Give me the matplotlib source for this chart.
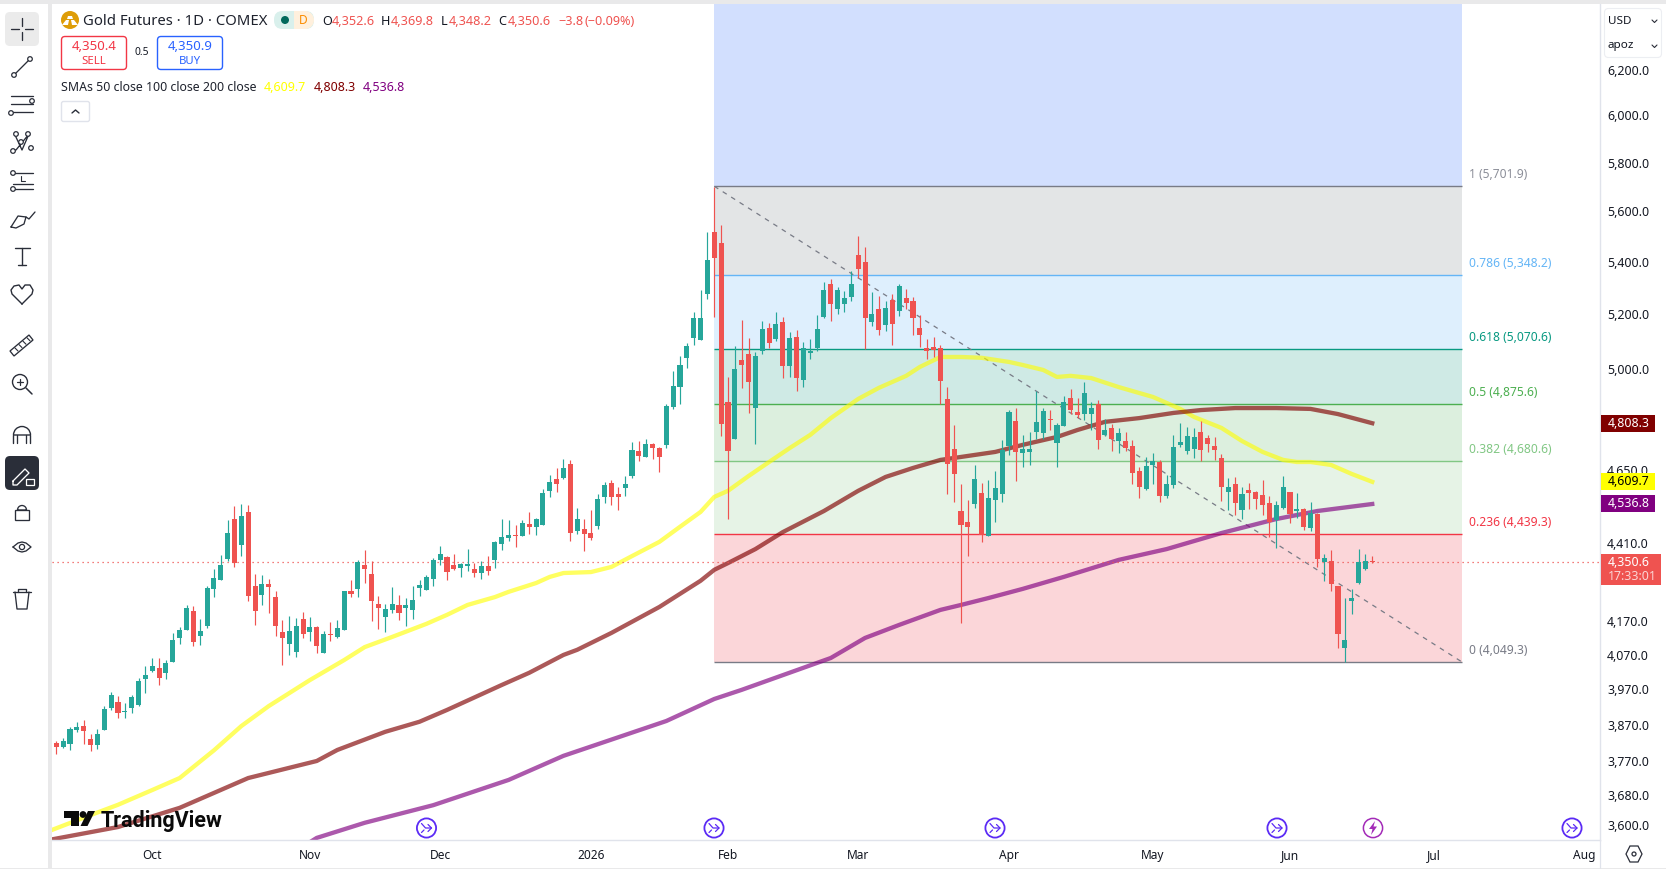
"""Gold futures daily candles with SMAs and a Fibonacci retracement, terminal layout."""

import matplotlib

matplotlib.use("Agg")

import matplotlib.pyplot as plt
from matplotlib.patches import Circle, FancyBboxPatch, Polygon, Rectangle, Wedge
from matplotlib.ticker import FixedFormatter, FixedLocator, NullLocator

plt.rcParams["font.family"] = ["Noto Sans", "DejaVu Sans"]

UP = "#26A69A"
DOWN = "#EF5350"
TEXT = "#131722"
ICON = "#2A2E39"
EVENT = "#5B2BF5"

opens = [
    3820, 3809, 3818, 3856, 3867, 3831, 3815, 3856, 3918, 3935, 3907, 3918, 3926, 4000, 4023, 4032,
    4018, 4050, 4120, 4144, 4201, 4126, 4156, 4268, 4296, 4361, 4488, 4405, 4511, 4277, 4249, 4283,
    4243, 4138, 4102, 4079, 4177, 4138, 4153, 4076, 4132, 4123, 4144, 4262, 4268, 4342, 4314, 4222,
    4183, 4204, 4219, 4210, 4204, 4271, 4265, 4299, 4358, 4367, 4342, 4333, 4339, 4330, 4317, 4339,
    4358, 4408, 4427, 4437, 4434, 4472, 4463, 4469, 4580, 4619, 4623, 4669, 4450, 4456, 4443, 4466,
    4560, 4606, 4570, 4590, 4629, 4713, 4693, 4737, 4723, 4734, 4865, 4935, 5040, 5112, 5105, 5277,
    5518, 5474, 4882, 4754, 5032, 5054, 4861, 5065, 5149, 5109, 5172, 5010, 5116, 4960, 5058, 5076,
    5190, 5315, 5220, 5239, 5265, 5427, 5400, 5172, 5220, 5161, 5254, 5213, 5262, 5250, 5149, 5076,
    5080, 5076, 4893, 4720, 4514, 4479, 4537, 4573, 4434, 4550, 4570, 4730, 4816, 4707, 4710, 4778,
    4775, 4823, 4741, 4799, 4896, 4847, 4840, 4840, 4875, 4768, 4792, 4747, 4747, 4730, 4646, 4586,
    4666, 4676, 4563, 4599, 4734, 4713, 4720, 4778, 4758, 4730, 4690, 4576, 4603, 4517, 4583, 4576,
    4566, 4540, 4485, 4524, 4576, 4514, 4521, 4459, 4505, 4352, 4355, 4277, 4090, 4231, 4287, 4330,
    4352.6,
]
highs = [
    3826, 3834, 3865, 3879, 3884, 3845, 3859, 3923, 3963, 3951, 3932, 3954, 4003, 4038, 4061, 4061,
    4055, 4135, 4153, 4219, 4216, 4177, 4277, 4330, 4374, 4485, 4530, 4537, 4534, 4314, 4311, 4299,
    4262, 4174, 4186, 4180, 4198, 4183, 4156, 4141, 4168, 4174, 4262, 4296, 4358, 4389, 4355, 4246,
    4222, 4274, 4249, 4240, 4277, 4296, 4311, 4364, 4402, 4370, 4377, 4348, 4392, 4348, 4355, 4370,
    4418, 4488, 4485, 4469, 4485, 4511, 4491, 4586, 4633, 4656, 4686, 4683, 4524, 4488, 4517, 4570,
    4609, 4616, 4593, 4629, 4744, 4747, 4754, 4741, 4727, 4875, 4993, 5047, 5094, 5209, 5292, 5518,
    5700, 5545, 4971, 5083, 5179, 5112, 5061, 5175, 5168, 5209, 5190, 5135, 5142, 5098, 5109, 5198,
    5323, 5334, 5304, 5288, 5365, 5502, 5458, 5285, 5269, 5250, 5277, 5315, 5296, 5265, 5198, 5109,
    5116, 5087, 4935, 4802, 4603, 4550, 4666, 4606, 4616, 4646, 4751, 4854, 4861, 4768, 4778, 4921,
    4861, 4854, 4809, 4904, 4928, 4896, 4953, 4882, 4889, 4823, 4806, 4792, 4778, 4751, 4659, 4693,
    4707, 4683, 4633, 4768, 4809, 4795, 4792, 4816, 4768, 4761, 4703, 4623, 4626, 4593, 4606, 4580,
    4616, 4563, 4547, 4629, 4576, 4573, 4524, 4544, 4508, 4377, 4389, 4277, 4240, 4268, 4392, 4377,
    4369.8,
]
lows = [
    3790, 3806, 3801, 3851, 3818, 3798, 3804, 3856, 3912, 3890, 3890, 3904, 3923, 3960, 4020, 3983,
    4000, 4050, 4102, 4144, 4096, 4099, 4150, 4243, 4296, 4355, 4336, 4370, 4231, 4159, 4219, 4195,
    4126, 4041, 4070, 4064, 4120, 4111, 4076, 4076, 4111, 4120, 4144, 4243, 4243, 4286, 4171, 4147,
    4138, 4195, 4174, 4156, 4177, 4246, 4265, 4277, 4342, 4296, 4327, 4305, 4323, 4305, 4299, 4311,
    4333, 4389, 4418, 4399, 4434, 4440, 4437, 4469, 4560, 4576, 4619, 4418, 4440, 4386, 4421, 4456,
    4540, 4534, 4517, 4563, 4623, 4680, 4693, 4686, 4643, 4723, 4858, 4875, 5003, 5087, 5105, 5258,
    5190, 4765, 4488, 4754, 4932, 4844, 4737, 5054, 5076, 5101, 4967, 4971, 4921, 4935, 5036, 5065,
    5187, 5175, 5202, 5209, 5250, 5338, 5072, 5157, 5124, 5138, 5087, 5194, 5220, 5124, 5080, 5036,
    5043, 4875, 4570, 4544, 4165, 4370, 4524, 4415, 4434, 4479, 4544, 4700, 4613, 4659, 4666, 4754,
    4754, 4785, 4659, 4799, 4840, 4826, 4820, 4785, 4720, 4765, 4713, 4707, 4713, 4603, 4557, 4583,
    4603, 4544, 4557, 4590, 4727, 4703, 4690, 4680, 4710, 4683, 4547, 4517, 4501, 4488, 4521, 4521,
    4501, 4431, 4396, 4521, 4475, 4491, 4453, 4450, 4336, 4293, 4262, 4090, 4049.3, 4192, 4283, 4327,
    4348.2,
]
closes = [
    3809, 3826, 3859, 3865, 3853, 3815, 3845, 3915, 3954, 3904, 3909, 3949, 3995, 4012, 4038, 4003,
    4047, 4114, 4144, 4210, 4108, 4141, 4271, 4302, 4342, 4443, 4348, 4498, 4246, 4201, 4283, 4274,
    4156, 4120, 4141, 4156, 4132, 4153, 4096, 4132, 4129, 4150, 4262, 4252, 4352, 4330, 4231, 4210,
    4207, 4222, 4195, 4219, 4234, 4280, 4305, 4358, 4377, 4320, 4330, 4345, 4345, 4317, 4339, 4323,
    4415, 4431, 4437, 4434, 4475, 4463, 4488, 4573, 4609, 4603, 4656, 4443, 4488, 4440, 4427, 4553,
    4599, 4560, 4560, 4603, 4717, 4696, 4737, 4723, 4693, 4868, 4939, 5014, 5083, 5187, 5187, 5408,
    5415, 4806, 4713, 5000, 5014, 4953, 5047, 5146, 5094, 5164, 5010, 5112, 4967, 5076, 5065, 5146,
    5292, 5239, 5292, 5262, 5315, 5372, 5187, 5202, 5142, 5224, 5164, 5307, 5243, 5187, 5124, 5065,
    5068, 4957, 4669, 4636, 4469, 4463, 4619, 4437, 4557, 4590, 4717, 4847, 4710, 4720, 4720, 4813,
    4851, 4820, 4802, 4882, 4854, 4837, 4914, 4861, 4751, 4785, 4754, 4775, 4723, 4639, 4593, 4663,
    4680, 4563, 4603, 4727, 4744, 4765, 4761, 4717, 4737, 4717, 4593, 4593, 4540, 4570, 4573, 4553,
    4534, 4479, 4534, 4593, 4505, 4521, 4463, 4508, 4361, 4364, 4283, 4132, 4114, 4240, 4352, 4355,
    4350.6,
]

sma50_idx = [
    -1, 5, 9, 14, 18, 23, 27, 31, 37, 42, 45, 49, 54, 57, 60, 64, 66, 70, 72, 74, 78, 81, 84, 88, 91, 94,
    96, 98, 101, 104, 107, 110, 113, 117, 120, 124, 126, 129, 132, 135, 139, 141, 144, 146, 148, 151,
    155, 160, 164, 166, 170, 173, 176, 179, 181, 183, 186, 189, 192,
]
sma50 = [
    3586, 3627, 3654, 3693, 3725, 3800, 3867, 3923, 3997, 4055, 4093, 4123, 4162, 4189, 4219, 4243, 4259,
    4286, 4305, 4317, 4320, 4336, 4370, 4415, 4463, 4511, 4560, 4580, 4629, 4676, 4723, 4768, 4826, 4893,
    4932, 4975, 5007, 5043, 5043, 5040, 5025, 5014, 4996, 4971, 4975, 4967, 4935, 4900, 4858, 4830, 4792,
    4747, 4710, 4683, 4676, 4676, 4666, 4636, 4609.7,
]
sma100_idx = [
    -1, 9, 18, 28, 38, 41, 48, 53, 57, 65, 69, 74, 76, 81, 88, 94, 96, 98, 102, 106, 112, 117, 121, 125,
    129, 132, 137, 141, 146, 149, 153, 158, 163, 167, 172, 178, 183, 187, 192,
]
sma100 = [
    3563, 3596, 3646, 3725, 3771, 3801, 3851, 3879, 3912, 3983, 4018, 4070, 4085, 4135, 4213, 4293, 4327,
    4348, 4392, 4446, 4514, 4580, 4626, 4656, 4683, 4693, 4710, 4734, 4761, 4785, 4813, 4826, 4844, 4854,
    4861, 4861, 4858, 4840, 4808.3,
]
sma200_idx = [
    37, 38, 45, 55, 66, 74, 89, 96, 100, 113, 118, 123, 129, 132, 136, 141, 147, 155, 162, 170, 178, 184, 192,
]
sma200 = [
    3557, 3568, 3607, 3653, 3720, 3785, 3881, 3943, 3969, 4061, 4120, 4159, 4204, 4219, 4240, 4268, 4305,
    4358, 4392, 4443, 4488, 4514, 4536.8,
]

fib_ratios = ["1", "0.786", "0.618", "0.5", "0.382", "0.236", "0"]
fib_levels = [5701.9, 5348.2, 5070.6, 4875.6, 4680.6, 4439.3, 4049.3]
fib_lines = ["#787B86", "#64B5F6", "#089981", "#4CAF50", "#81C784", "#F23645", "#787B86"]
fib_labels = ["#8C8F99", "#64B5F6", "#089981", "#4CAF50", "#81C784", "#F23645", "#787B86"]
fib_fills = ["#E3E5E6", "#DEEFFD", "#CFEAE5", "#DCEFDE", "#E6F3E6", "#FBD6D9"]
fib_top_fill = "#D2DFFE"

price_ticks = [6200, 6000, 5800, 5600, 5400, 5200, 5000, 4650, 4410, 4170, 4070, 3970, 3870, 3770, 3680, 3600]
month_labels = ["Oct", "Nov", "Dec", "2026", "Feb", "Mar", "Apr", "May", "Jun", "Jul", "Aug"]
month_idx = [14, 37, 56, 78, 98, 117, 139, 160, 180, 201, 223]

fib_start, fib_end = 96, 205.1
last_price = closes[-1]

fig = plt.figure(figsize=(16.66, 8.69), dpi=100, facecolor="white")
ax = fig.add_axes([52 / 1666, 29 / 869, 1548 / 1666, 836 / 869])
ax.set_yscale("log")
ax.set_xlim(-0.627, 225.23)
ax.set_ylim(3562.6, 6500.9)

# Fibonacci bands and levels
ax.fill_between([fib_start, fib_end], fib_levels[0], 6500.9, color=fib_top_fill, lw=0, zorder=1)
for upper, lower, fill in zip(fib_levels[:-1], fib_levels[1:], fib_fills):
    ax.fill_between([fib_start, fib_end], lower, upper, color=fill, lw=0, zorder=1)
for level, color in zip(fib_levels, fib_lines):
    ax.plot([fib_start, fib_end], [level, level], color=color, lw=1.0, zorder=1.5, solid_capstyle="butt")
for ratio, level, color in zip(fib_ratios, fib_levels, fib_labels):
    ax.annotate(
        f"{ratio} ({level:,.1f})",
        xy=(fib_end, level),
        xytext=(5, 8.2),
        textcoords="offset points",
        color=color,
        fontsize=8.7,
        va="center",
        ha="left",
    )
ax.plot(
    [fib_start, fib_end],
    [fib_levels[0], fib_levels[-1]],
    color="#787B86",
    lw=0.9,
    dashes=(3.8, 4.2),
    zorder=2,
)

# Moving averages sit under the candles
ax.plot(sma50_idx, sma50, color="#FFFF00", alpha=0.62, lw=3.1, zorder=2.5, solid_joinstyle="round")
ax.plot(sma100_idx, sma100, color="#800000", alpha=0.65, lw=3.1, zorder=2.5, solid_joinstyle="round")
ax.plot(sma200_idx, sma200, color="#800080", alpha=0.65, lw=3.1, zorder=2.5, solid_joinstyle="round")

ax.axhline(last_price, color=DOWN, lw=0.9, dashes=(1, 3), zorder=2.6)

# Candles
for i, (o, h, l, c) in enumerate(zip(opens, highs, lows, closes)):
    color = UP if c >= o else DOWN
    ax.vlines(i, l, h, color=color, lw=0.85, zorder=3)
    ax.bar(i, max(abs(c - o), 2.5), bottom=min(o, c), width=0.74, color=color, lw=0, zorder=3.1)

# Axes
ax.yaxis.tick_right()
ax.yaxis.set_major_locator(FixedLocator(price_ticks))
ax.yaxis.set_major_formatter(FixedFormatter([f"{p:,.1f}" for p in price_ticks]))
ax.yaxis.set_minor_locator(NullLocator())
ax.set_xticks(month_idx)
ax.set_xticklabels(month_labels)
ax.tick_params(axis="y", length=0, pad=5.2, labelsize=8.9, labelcolor=TEXT)
ax.tick_params(axis="x", length=0, pad=6.8, labelsize=8.6, labelcolor=TEXT)
for tick_label in ax.get_yticklabels():
    tick_label.set_verticalalignment("center_baseline")
for tick_label in ax.get_xticklabels():
    if tick_label.get_text() == "2026":
        tick_label.set_fontweight("bold")
for side in ["top", "left"]:
    ax.spines[side].set_visible(False)
for side in ["right", "bottom"]:
    ax.spines[side].set_color("#E0E3EB")
    ax.spines[side].set_linewidth(1.0)

# Everything around the plot is placed in a full-figure pixel overlay
ui = fig.add_axes([0, 0, 1, 1], facecolor="none")
ui.set_xlim(0, 1666)
ui.set_ylim(869, 0)
ui.axis("off")


def rounded(x, y, w, h, radius=3, **kwargs):
    ui.add_patch(
        FancyBboxPatch((x + radius, y + radius), w - 2 * radius, h - 2 * radius,
                       boxstyle=f"round,pad={radius},rounding_size={radius}", **kwargs)
    )


def stroke(xs, ys, color=ICON, lw=0.95):
    ui.plot(xs, ys, color=color, lw=lw, solid_capstyle="round", solid_joinstyle="round")


def ring(x, y, r=2.3, color=ICON, fill="white"):
    ui.add_patch(Circle((x, y), r, fc=fill, ec=color, lw=0.9, zorder=5))


def label(x, y, text, color=TEXT, size=8.6, ha="left", **kwargs):
    ui.text(x, y + 1.2, text, color=color, fontsize=size, ha=ha, va="center", **kwargs)


# Window frame
ui.add_patch(Rectangle((0, 0), 1666, 4, fc="#E9E9EA", lw=0))
ui.add_patch(Rectangle((48, 0), 4, 869, fc="#E9E9EA", lw=0))
ui.add_patch(Rectangle((0, 867.5), 1666, 1.5, fc="#E9E9EA", lw=0))
stroke([1600, 1600], [840, 868], color="#E0E3EB", lw=0.9)

# Drawing toolbar
rounded(5, 12, 34, 34, radius=5, fc="#EBEBEB", ec="none")
stroke([11, 19], [29, 29]); stroke([25, 33], [29, 29]); stroke([22, 22], [18, 26]); stroke([22, 22], [32, 40])
stroke([14, 30], [75, 59]); ring(14, 75); ring(30, 59)
for y, x0 in [(96, 11), (104, 11), (112, 11)]:
    stroke([x0, 33], [y, y])
ring(32, 101); ring(11, 113)
stroke([15, 22, 29, 16, 12], [135, 150, 134, 150, 150]); ring(16, 134); ring(28, 134); ring(21, 142); ring(13, 151); ring(31, 148)
stroke([13, 33], [173, 173]); stroke([13, 33], [184, 184]); stroke([13, 33], [189, 189]); ring(13, 173); ring(13, 189)
stroke([21, 21, 25], [176, 181, 181], lw=0.8)
stroke([11, 18, 26, 24, 16, 11], [227, 216, 217, 224, 228, 227]); stroke([26, 29, 35], [217, 219, 212])
stroke([15, 30], [248, 248], lw=1.0); stroke([22, 22], [248, 265], lw=1.0); stroke([18, 26], [265, 265], lw=1.0)
stroke([22, 12, 11, 14, 19, 22, 25, 30, 33, 32, 22], [304, 294, 290, 286, 285, 289, 285, 285, 290, 294, 304], lw=1.0)
ui.add_patch(Polygon([(10, 351), (29, 335), (33, 340), (14, 356)], closed=True, fc="none", ec=ICON, lw=0.95))
for t in range(4):
    stroke([15 + 4 * t, 18 + 4 * t], [348 - 3.4 * t, 351 - 3.4 * t], lw=0.8)
ui.add_patch(Circle((20, 382), 7.5, fc="none", ec=ICON, lw=1.0))
stroke([26, 32], [388, 394], lw=1.1); stroke([17, 23], [382, 382], lw=0.9); stroke([20, 20], [379, 385], lw=0.9)
ui.add_patch(Wedge((22, 435), 8.5, 180, 360, fc="none", ec=ICON, lw=1.0))
stroke([13.5, 13.5], [435, 443], lw=1.0); stroke([30.5, 30.5], [435, 443], lw=1.0)
stroke([17.5, 17.5], [435, 443]); stroke([26.5, 26.5], [435, 443])
rounded(5, 456, 34, 34, radius=5, fc="#2A2E39", ec="none")
stroke([13, 25, 29, 17, 13, 13], [481, 469, 473, 485, 485, 481], color="white")
ui.add_patch(Rectangle((26, 479), 8, 6, fc="none", ec="white", lw=0.9))
ui.add_patch(Rectangle((15, 510), 14, 10, fc="none", ec=ICON, lw=0.95))
ui.add_patch(Wedge((22, 510), 4.5, 180, 360, fc="none", ec=ICON, lw=0.95))
stroke([13, 18, 22, 26, 31, 26, 22, 18, 13], [547, 543, 542, 543, 547, 551, 552, 551, 547])
ui.add_patch(Circle((22, 547), 2.6, fc="none", ec=ICON, lw=0.9))
stroke([13, 31], [592, 592]); stroke([18, 18, 26, 26], [592, 589, 589, 592])
stroke([15, 17, 27, 29], [592, 609, 609, 592])

# Symbol header
ui.add_patch(Circle((70, 20), 9, fc="#DE9D08", lw=0))
ui.add_patch(Polygon([(68, 16), (72, 16), (73, 19), (67, 19)], fc="white", lw=0))
ui.add_patch(Polygon([(62, 25), (66, 20), (69, 20), (68, 25)], fc="white", lw=0))
ui.add_patch(Polygon([(72, 25), (71, 20), (74, 20), (78, 25)], fc="white", lw=0))
label(83, 20, "Gold Futures · 1D · COMEX", size=10.7, color="#1E222D")
rounded(274, 11, 40, 18, radius=8.5, fc="#D9F0EC", ec="none")
ui.add_patch(Rectangle((294, 11), 11, 18, fc="#FFF0DD", lw=0))
ui.add_patch(Wedge((305, 20), 9, -90, 90, fc="#FFF0DD", lw=0))
ui.add_patch(Circle((285, 20), 4, fc="#00695C", lw=0))
label(303, 19, "D", color="#FB8C00", size=8.6, ha="center", fontweight="bold")
ohlc_parts = [
    (322, "O", TEXT), (332, "4,352.6", DOWN), (381, "H", TEXT), (391, "4,369.8", DOWN),
    (441, "L", TEXT), (449, "4,348.2", DOWN), (498, "C", TEXT), (508, "4,350.6", DOWN),
    (558, "−3.8", DOWN), (585, "(−0.09%)", DOWN),
]
for x, text, color in ohlc_parts:
    label(x, 20, text, color=color, size=9.1)

rounded(61.5, 36.5, 65, 33, radius=3.5, fc="white", ec="#F23645", lw=1.0)
label(94, 45, "4,350.4", color="#F23645", size=9.5, ha="center")
label(94, 60, "SELL", color="#F23645", size=8.2, ha="center")
label(142, 51.5, "0.5", size=7.4, ha="center")
rounded(157.5, 36.5, 65, 33, radius=3.5, fc="white", ec="#2962FF", lw=1.0)
label(190, 45, "4,350.9", color="#2962FF", size=9.5, ha="center")
label(190, 60, "BUY", color="#2962FF", size=8.2, ha="center")

label(61, 86, "SMAs 50 close 100 close 200 close", size=8.85, color="#1E222D")
label(264, 86, "4,609.7", color="#FFFF00", size=9.0)
label(314, 86, "4,808.3", color="#800000", size=9.0)
label(363, 86, "4,536.8", color="#800080", size=9.0)
rounded(61.5, 101.5, 28, 20, radius=2, fc="white", ec="#E0E3EB", lw=1.0)
stroke([72, 75.5, 79], [113, 110, 113], lw=1.0)

# Currency and unit selector
rounded(1604.5, 8.5, 57, 49, radius=4, fc="white", ec="#ECEEF2", lw=0.8)
label(1608, 20, "USD", size=8.4)
label(1608, 44.5, "apoz", size=8.4)
stroke([1652, 1654.5, 1657], [20, 22.5, 20], lw=0.8)
stroke([1652, 1654.5, 1657], [45, 47.5, 45], lw=0.8)


def price_tag(value, fill, color, height=17):
    y = 869 - ax.transData.transform((0, value))[1]
    ui.add_patch(Rectangle((1601, y - height / 2), 54, height, fc=fill, lw=0))
    label(1608, y - 1.2, f"{value:,.1f}", color=color, size=8.9)


price_tag(sma100[-1], "#800000", "white")
price_tag(sma50[-1], "#FFFF00", "black")
price_tag(sma200[-1], "#800080", "white")
tag_y = 869 - ax.transData.transform((0, last_price))[1]
ui.add_patch(Rectangle((1601, tag_y - 8), 60, 31, fc=DOWN, lw=0))
label(1608, tag_y - 1.2, f"{last_price:,.1f}", color="white", size=8.9)
label(1608, tag_y + 13.5, "17:33:01", color="#FBD5D4", size=8.9)

# Session gear
ui.add_patch(Polygon([(1630, 846), (1638, 846), (1642, 854), (1638, 862), (1630, 862), (1626, 854)],
                     fc="none", ec=ICON, lw=0.9))
ui.add_patch(Circle((1634, 854), 2, fc="none", ec=ICON, lw=0.9))

# Watermark
ui.add_patch(Polygon([(64, 811), (79, 811), (79, 826), (71, 826), (71, 817.5), (64, 817.5)], fc="#0A0A0A", lw=0))
ui.add_patch(Circle((83, 814.5), 3.4, fc="#0A0A0A", lw=0))
ui.add_patch(Polygon([(88, 811), (95, 811), (87.5, 826), (80.5, 826)], fc="#0A0A0A", lw=0))
ui.text(101, 820.5, "TradingView", color="#0A0A0A", fontsize=15.5, fontfamily="Roboto", fontweight="bold",
        va="center", ha="left")

# Economic event markers
for x in [426.5, 714, 995, 1277, 1572]:
    ui.add_patch(Circle((x, 828), 9.6, fc="white", ec=EVENT, lw=1.3))
    stroke([x - 5, x - 1, x + 5], [823.5, 828, 828], color=EVENT, lw=0.9)
    stroke([x + 1.5, x + 5, x + 1.5], [824.5, 828, 831.5], color=EVENT, lw=0.9)
    stroke([x - 5, x - 2.5], [832.5, 830], color=EVENT, lw=0.9)
ui.add_patch(Circle((1373, 828), 9.6, fc="white", ec="#A32BB8", lw=1.1))
ui.add_patch(Polygon([(1375, 821), (1369, 829), (1372.5, 829), (1371, 835), (1377, 826.5), (1373.5, 826.5)],
                     fc="#A32BB8", lw=0))

fig.savefig("out.png", dpi=100, facecolor="white")
plt.close(fig)
